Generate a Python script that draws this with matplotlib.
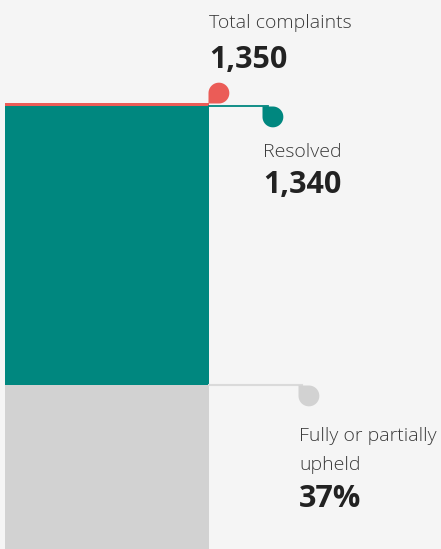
import numpy as np
import matplotlib
matplotlib.use('Agg')
import matplotlib.pyplot as plt
from matplotlib.path import Path

# data
total = 1350
resolved = 1340
upheld_pct = 37
labels = ['Total complaints', 'Resolved', 'Fully or partially', 'upheld']
value_texts = ['1,350', '1,340', '37%']

upheld = resolved * upheld_pct / 100.0

bg = '#f5f5f5'
red = '#eb5c57'
teal = '#00877f'
grey = '#d2d2d2'

plt.rcParams['font.family'] = ['Open Sans', 'DejaVu Sans']


def drop_marker(corner):
    # circle with one square corner, the corner sits at the origin
    if corner == 'bl':
        t1 = np.linspace(0, np.pi, 40)
        t2 = np.linspace(1.5 * np.pi, 2 * np.pi, 20)
        v = np.vstack([np.column_stack([1 + np.cos(t1), 1 + np.sin(t1)]),
                       [[0, 0]],
                       np.column_stack([1 + np.cos(t2), 1 + np.sin(t2)])])
    else:  # top-left
        t = np.linspace(np.pi, 2.5 * np.pi, 60)
        v = np.vstack([np.column_stack([1 + np.cos(t), -1 + np.sin(t)]),
                       [[0, 0]]])
    v = np.vstack([v, v[:1]])
    codes = [Path.MOVETO] + [Path.LINETO] * (len(v) - 2) + [Path.CLOSEPOLY]
    return Path(v, codes)


W, H = 441, 549
fig = plt.figure(figsize=(W / 100, H / 100), dpi=100, facecolor=bg)
ax = fig.add_axes([0, 0, 1, 1])
ax.set_facecolor(bg)
ax.set_xlim(0, W)
# 1350 complaints span the bar from the bottom up to pixel row 103
ax.set_ylim(0, total * H / 446.0)
ax.axis('off')

bx, bw = 5, 204
ax.bar(bx, total, width=bw, align='edge', color=red, linewidth=0)
ax.bar(bx, resolved, width=bw, align='edge', color=teal, linewidth=0)
ax.bar(bx, upheld, width=bw, align='edge', color=grey, linewidth=0)

ms = 30
# total marker
ax.plot([bx + bw - 1], [total], marker=drop_marker('bl'), ms=ms, color=red,
        mew=0, ls='none')
# resolved leader + marker
ax.plot([bx + bw, 268], [resolved, resolved], color=teal, lw=1.3)
ax.plot([262], [resolved], marker=drop_marker('tl'), ms=ms, color=teal,
        mew=0, ls='none')
# upheld leader + marker
ax.plot([bx + bw, 302], [upheld, upheld], color='#dadada', lw=1.5)
ax.plot([298], [upheld], marker=drop_marker('tl'), ms=ms, color=grey,
        mew=0, ls='none')

lab_kw = dict(fontsize=14, color='#3a3a3a', fontweight='light', va='baseline',
              textcoords='offset pixels', annotation_clip=False)
num_kw = dict(fontsize=22, color='#222222', fontweight='bold', va='baseline',
              textcoords='offset pixels', annotation_clip=False)

ax.annotate(labels[0], xy=(209, total), xytext=(0, 75), **lab_kw)
ax.annotate(value_texts[0], xy=(209, total), xytext=(0, 35), **num_kw)
ax.annotate(labels[1], xy=(263, resolved), xytext=(0, -51), **lab_kw)
ax.annotate(value_texts[1], xy=(263, resolved), xytext=(0, -87), **num_kw)
ax.annotate(labels[2], xy=(299, upheld), xytext=(0, -56), **lab_kw)
ax.annotate(labels[3], xy=(299, upheld), xytext=(0, -85), **lab_kw)
ax.annotate(value_texts[2], xy=(299, upheld), xytext=(0, -122), **num_kw)

fig.savefig('out.png', dpi=100, facecolor=bg)
